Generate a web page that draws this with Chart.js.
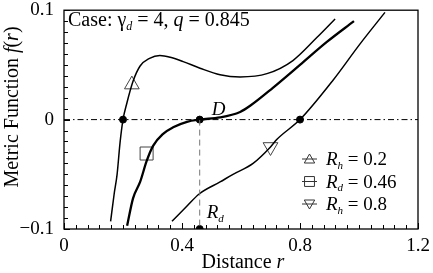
<!DOCTYPE html>
<html>
<head>
<meta charset="utf-8">
<script src="https://cdn.jsdelivr.net/npm/chart.js@4.4.0/dist/chart.umd.min.js"></script>
<style>
  body { margin: 0; background: #fff; }
  #wrap { width: 433px; height: 273px; }
</style>
</head>
<body>
<div id="wrap"><canvas id="chart"></canvas></div>
<script>
// values
const rTicks = [0, 0.4, 0.8, 1.2];
const fTicks = [-0.1, 0, 0.1];

// R_h = 0.2
const rA = [0.158, 0.17, 0.18, 0.19, 0.2, 0.213, 0.234, 0.258, 0.29, 0.325, 0.36, 0.404, 0.461, 0.529, 0.597, 0.688, 0.776, 0.857, 0.919];
const fA = [-0.093, -0.068, -0.05, -0.021, 0, 0.015, 0.035, 0.049, 0.056, 0.0586, 0.057, 0.053, 0.047, 0.041, 0.039, 0.042, 0.054, 0.075, 0.092];

// R_d = 0.46
const rB = [0.214, 0.234, 0.258, 0.28, 0.302, 0.336, 0.37, 0.417, 0.461, 0.529, 0.597, 0.631, 0.708, 0.8, 0.891, 0.983];
const fB = [-0.097, -0.072, -0.057, -0.038, -0.024, -0.013, -0.007, -0.002, 0, 0.002, 0.007, 0.0126, 0.029, 0.05, 0.071, 0.09];

// R_h = 0.8
const rC = [0.366, 0.417, 0.458, 0.529, 0.573, 0.641, 0.70, 0.722, 0.8, 0.912, 1.003, 1.088];
const fC = [-0.093, -0.079, -0.068, -0.057, -0.05, -0.04, -0.025, -0.018, 0, 0.036, 0.069, 0.098];

// markers on the curves
const markA = [{x: 0.23, y: 0.032}];
const markB = [{x: 0.28, y: -0.031}];
const markC = [{x: 0.70, y: -0.025}];

// special points: horizons, D, R_d
const dotsR = [0.2, 0.46, 0.8, 0.46];
const dotsF = [0, 0, 0, -0.1];

const Rd = 0.46;

const pts = (xs, ys) => xs.map((x, i) => ({x: x, y: ys[i]}));

const SERIF = '"Liberation Serif", "DejaVu Serif", serif';

function drawRich(ctx, parts, x, y, size, align) {
    // parts: [text, style] with style '', 'i' italic, 'sub' subscript italic
    const fontFor = (s) => {
        if (s === 'sub') return 'italic ' + Math.round(size * 0.6) + 'px ' + SERIF;
        if (s === 'i') return 'italic ' + size + 'px ' + SERIF;
        return size + 'px ' + SERIF;
    };
    let total = 0;
    parts.forEach(p => { ctx.font = fontFor(p[1]); total += ctx.measureText(p[0]).width; });
    let cx = align === 'center' ? x - total / 2 : x;
    ctx.textAlign = 'left';
    ctx.textBaseline = 'alphabetic';
    parts.forEach(p => {
        ctx.font = fontFor(p[1]);
        ctx.fillText(p[0], cx, p[1] === 'sub' ? y + size * 0.2 : y);
        cx += ctx.measureText(p[0]).width;
    });
}

const decorPlugin = {
    id: 'decor',
    afterDatasetsDraw(chart) {
        const ctx = chart.ctx;
        const a = chart.chartArea;
        const xs = chart.scales.x, ys = chart.scales.y;
        ctx.save();
        ctx.fillStyle = '#000';
        ctx.strokeStyle = '#000';

        // frame
        ctx.lineWidth = 1.3;
        ctx.strokeRect(a.left, a.top, a.right - a.left, a.bottom - a.top);

        // inward ticks
        ctx.lineWidth = 1;
        ctx.beginPath();
        for (let i = 0; i <= 30; i++) {
            const px = Math.round(xs.getPixelForValue(i * 0.04)) + 0.5;
            const len = i % 10 === 0 ? 6 : 4;
            ctx.moveTo(px, a.bottom);
            ctx.lineTo(px, a.bottom - len);
        }
        for (let j = 0; j <= 20; j++) {
            const py = Math.round(ys.getPixelForValue(-0.1 + j * 0.01)) + 0.5;
            const len = j % 10 === 0 ? 6 : 4;
            ctx.moveTo(a.left, py);
            ctx.lineTo(a.left + len, py);
        }
        ctx.stroke();

        // case text
        drawRich(ctx, [['Case: ', ''], ['\u03B3', ''], ['d', 'sub'], [' = 4, ', ''], ['q', 'i'], [' = 0.845', '']],
            a.left + 4, a.top + 16, 20);

        // D and R_d labels
        const dx = xs.getPixelForValue(Rd);
        drawRich(ctx, [['D', 'i']], dx + 12, ys.getPixelForValue(0) - 5, 19);
        drawRich(ctx, [['R', 'i'], ['d', 'sub']], dx + 7, ys.getPixelForValue(-0.1) - 11, 19);

        // legend
        const rows = [
            {sym: 'triangle', rot: 0, parts: [['R', 'i'], ['h', 'sub'], [' = 0.2', '']]},
            {sym: 'rect', rot: 0, parts: [['R', 'i'], ['d', 'sub'], [' = 0.46', '']]},
            {sym: 'triangle', rot: 180, parts: [['R', 'i'], ['h', 'sub'], [' = 0.8', '']]}
        ];
        rows.forEach((row, k) => {
            const base = 165 + k * 22.5;
            const cy = base - 6;
            ctx.strokeStyle = '#333';
            ctx.lineWidth = 1;
            ctx.beginPath();
            ctx.moveTo(302, cy);
            ctx.lineTo(317, cy);
            ctx.stroke();
            ctx.fillStyle = 'rgba(0,0,0,0)';
            Chart.helpers.drawPoint(ctx, {
                pointStyle: row.sym, rotation: row.rot,
                radius: row.sym === 'rect' ? 7 : 6, borderWidth: 1
            }, 309.5, cy + (row.sym === 'triangle' ? (row.rot ? -1 : 1) : 0));
            ctx.fillStyle = '#000';
            drawRich(ctx, row.parts, 326, base, 19);
        });

        // axis titles
        drawRich(ctx, [['Distance ', ''], ['r', 'i']], 243, 268, 20, 'center');
        ctx.translate(18, 107);
        ctx.rotate(-Math.PI / 2);
        drawRich(ctx, [['Metric Function ', ''], ['f', 'i'], ['(', ''], ['r', 'i'], [')', '']], 0, 0, 20, 'center');
        ctx.restore();
    }
};

const curve = (data, w) => ({
    data: data, showLine: true, borderColor: '#000', borderWidth: w,
    pointRadius: 0, cubicInterpolationMode: 'monotone', fill: false
});
const marker = (data, style, rot, r) => ({
    data: data, showLine: false, pointStyle: style, rotation: rot,
    pointRadius: r, pointBorderWidth: 1, pointBorderColor: '#444',
    pointBackgroundColor: 'rgba(0,0,0,0)'
});

new Chart(document.getElementById('chart'), {
    type: 'scatter',
    data: {
        datasets: [
            {   // f = 0 dash-dot line
                data: [{x: rTicks[0], y: 0}, {x: rTicks[rTicks.length - 1], y: 0}],
                showLine: true, borderColor: '#000', borderWidth: 1,
                borderDash: [6, 3, 1.5, 3], pointRadius: 0
            },
            {   // dashed line at R_d
                data: [{x: Rd, y: 0}, {x: Rd, y: fTicks[0]}],
                showLine: true, borderColor: '#777', borderWidth: 1,
                borderDash: [6, 4], pointRadius: 0
            },
            curve(pts(rA, fA), 1.5),
            curve(pts(rB, fB), 2.3),
            curve(pts(rC, fC), 1.5),
            marker(markA, 'triangle', 0, 8.5),
            marker(markB, 'rect', 0, 9.2),
            marker(markC, 'triangle', 180, 8.5),
            {
                data: pts(dotsR, dotsF), showLine: false, pointRadius: 3.5,
                pointBackgroundColor: '#000', pointBorderColor: '#000'
            }
        ]
    },
    options: {
        responsive: true,
        maintainAspectRatio: false,
        animation: false,
        layout: {padding: {left: 0, top: 6, right: 15, bottom: 0}},
        plugins: {legend: {display: false}, tooltip: {enabled: false}},
        scales: {
            x: {
                type: 'linear', min: 0, max: 1.2,
                grid: {display: false, drawTicks: false},
                border: {display: false},
                afterFit: (s) => { s.height = 44; s.paddingLeft = 0; s.paddingRight = 0; },
                afterBuildTicks: (s) => { s.ticks = rTicks.map(v => ({value: v})); },
                ticks: {
                    color: '#000', padding: 6, maxRotation: 0,
                    font: {family: SERIF, size: 19},
                    callback: (v) => String(v)
                }
            },
            y: {
                type: 'linear', min: -0.1, max: 0.1,
                grid: {display: false, drawTicks: false},
                border: {display: false},
                afterFit: (s) => { s.width = 64; s.paddingTop = 0; s.paddingBottom = 0; },
                afterBuildTicks: (s) => { s.ticks = fTicks.map(v => ({value: v})); },
                ticks: {
                    color: '#000', padding: 10,
                    font: {family: SERIF, size: 19},
                    callback: (v) => v < 0 ? '\u2212' + String(-v) : String(v)
                }
            }
        }
    },
    plugins: [decorPlugin]
});
</script>
</body>
</html>
